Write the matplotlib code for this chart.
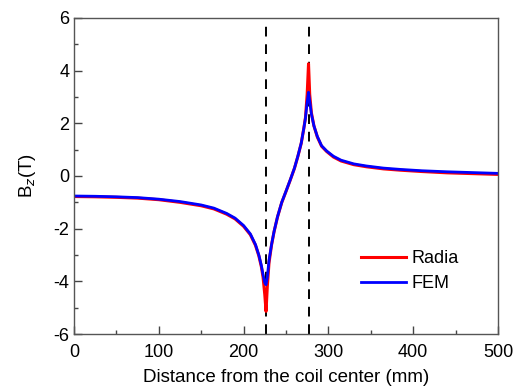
import matplotlib.pyplot as plt
from matplotlib.ticker import MultipleLocator

plt.rcParams['font.family'] = ['Liberation Sans', 'DejaVu Sans']
plt.rcParams['axes.unicode_minus'] = False

# distance from coil center (mm)
x = [0, 25, 50, 75, 100, 125, 150, 165, 180, 190, 200, 208, 214, 218, 221, 223, 225,
     226.5, 228, 230, 233, 236, 240, 245, 250, 255, 260, 264, 268, 271, 273, 275,
     276.6, 278, 280, 283, 287, 292, 298, 306, 315, 330, 345, 365, 385, 410, 440, 470, 500]

bz_fem = [-0.76, -0.77, -0.79, -0.82, -0.88, -0.97, -1.10, -1.22, -1.42, -1.60, -1.88,
          -2.20, -2.60, -3.00, -3.40, -3.75, -4.05,
          -4.13, -3.85, -3.20, -2.60, -2.10, -1.55, -1.00, -0.58, -0.15, 0.30, 0.75,
          1.25, 1.80, 2.20, 2.80,
          3.18, 2.85, 2.35, 1.90, 1.50, 1.15, 0.95, 0.75, 0.60, 0.46, 0.38, 0.30, 0.25,
          0.20, 0.16, 0.13, 0.10]

bz_radia = [-0.78, -0.79, -0.81, -0.84, -0.90, -1.00, -1.13, -1.25, -1.45, -1.63, -1.91,
            -2.23, -2.63, -3.03, -3.45, -3.85, -4.50,
            -5.14, -4.20, -3.30, -2.62, -2.11, -1.56, -1.01, -0.59, -0.16, 0.29, 0.74,
            1.24, 1.80, 2.22, 3.10,
            4.26, 3.10, 2.40, 1.90, 1.48, 1.13, 0.93, 0.72, 0.57, 0.43, 0.35, 0.27, 0.22,
            0.17, 0.12, 0.09, 0.06]

coil_edges = [226.5, 276.6]

fig = plt.figure(figsize=(5.16, 3.86), dpi=100)
ax = fig.add_axes([0.1434, 0.1347, 0.8216, 0.8187])

ax.plot(x, bz_radia, color='red', lw=2.2, label='Radia')
ax.plot(x, bz_fem, color='blue', lw=2.0, label='FEM')

for xe in coil_edges:
    ax.axvline(xe, color='black', ls=(0, (5, 4)), lw=1.4, zorder=0)

ax.set_xlim(0, 500)
ax.set_ylim(-6, 6)
ax.xaxis.set_major_locator(MultipleLocator(100))
ax.xaxis.set_minor_locator(MultipleLocator(50))
ax.yaxis.set_major_locator(MultipleLocator(2))
ax.yaxis.set_minor_locator(MultipleLocator(1))
ax.tick_params(which='both', direction='in', top=False, right=False, labelsize=13,
               color='#444444')
ax.tick_params(which='major', length=6, width=1)
ax.tick_params(which='minor', length=3, width=1)
ax.tick_params(axis='x', which='major', pad=7)
for s in ax.spines.values():
    s.set_color('#555555')
    s.set_linewidth(1)

ax.set_xlabel('Distance from the coil center (mm)', fontsize=13.5, labelpad=6)
ax.set_ylabel('B$_z$(T)', fontsize=13.5, labelpad=11)

ax.legend(loc='lower right', frameon=False, fontsize=13, handlelength=2.5,
          handletextpad=0.3, labelspacing=0.45, bbox_to_anchor=(0.945, 0.08))

fig.savefig('out.png', dpi=100)
